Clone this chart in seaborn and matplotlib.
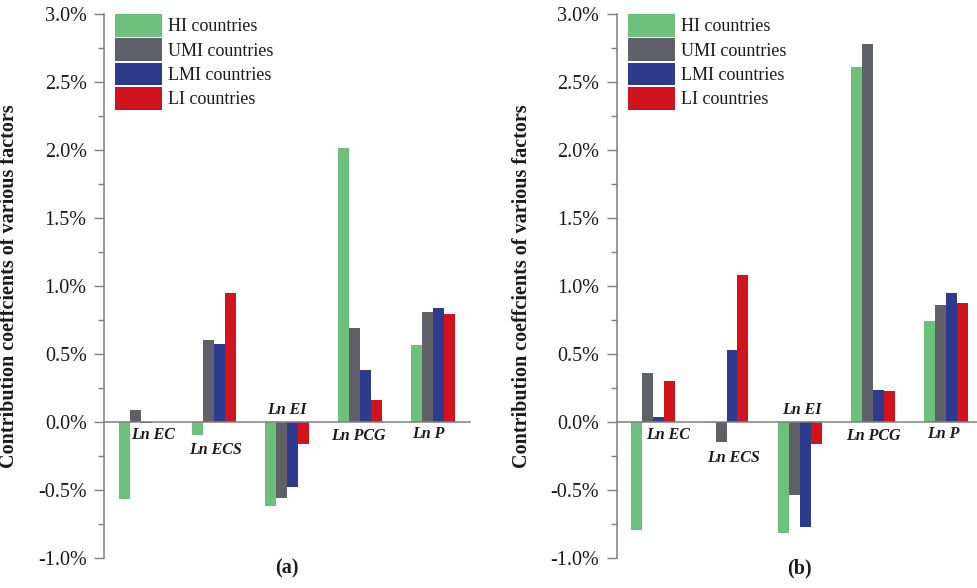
import numpy as np
import pandas as pd
import matplotlib
matplotlib.use("Agg")
import matplotlib.pyplot as plt
from matplotlib.patches import Patch
from matplotlib.ticker import MultipleLocator, FuncFormatter
import seaborn as sns

# Factors and income groups
factors = ["Ln EC", "Ln ECS", "Ln EI", "Ln PCG", "Ln P"]
groups = ["HI countries", "UMI countries", "LMI countries", "LI countries"]

# Contribution coefficients (%) -- panel (a)
hi_a = [-0.57, -0.10, -0.62, 2.01, 0.565]
umi_a = [0.085, 0.60, -0.563, 0.688, 0.805]
lmi_a = [-0.012, 0.57, -0.48, 0.383, 0.837]
li_a = [-0.004, 0.946, -0.163, 0.163, 0.793]

# Contribution coefficients (%) -- panel (b)
hi_b = [-0.793, -0.012, -0.817, 2.61, 0.739]
umi_b = [0.359, -0.146, -0.54, 2.78, 0.859]
lmi_b = [0.037, 0.529, -0.776, 0.232, 0.946]
li_b = [0.30, 1.076, -0.166, 0.228, 0.871]

panel_tags = ["(a)", "(b)"]

palette = ["#6cc07b", "#5f6068", "#2d3a8e", "#d0131d"]

sns.set_theme(style="white")
plt.rcParams["font.family"] = ["Liberation Serif", "DejaVu Serif"]


def long_table(series):
    rows = []
    for g, vals in zip(groups, series):
        for f, v in zip(factors, vals):
            rows.append({"factor": f, "group": g, "value": v})
    return pd.DataFrame(rows)


# Where each factor name sits (x offset from category, y in %)
label_pos_a = [(0.17, -0.10), (1.02, -0.21), (2.0, 0.085), (2.97, -0.105), (3.93, -0.09)]
label_pos_b = [(0.20, -0.10), (1.10, -0.27), (2.03, 0.085), (3.0, -0.105), (3.96, -0.09)]

W, H = 977, 588
fig = plt.figure(figsize=(W / 100, H / 100), dpi=100)

ax_w = 366 / W
ax_h = 544 / H
ax_b = 1 - 557.7 / H
axes = [fig.add_axes([104 / W, ax_b, ax_w, ax_h]),
        fig.add_axes([616.7 / W, ax_b, ax_w, ax_h])]

datasets = [long_table([hi_a, umi_a, lmi_a, li_a]),
            long_table([hi_b, umi_b, lmi_b, li_b])]
label_sets = [label_pos_a, label_pos_b]

spine_col = "#7f7f7f"
text_col = "#1a1a1a"

for ax, df, lpos, tag in zip(axes, datasets, label_sets, panel_tags):
    sns.barplot(data=df, x="factor", y="value", hue="group",
                order=factors, hue_order=groups, palette=palette,
                width=0.6, gap=0, saturation=1, errorbar=None,
                edgecolor="none", linewidth=0, ax=ax, legend=False)
    ax.set_xlim(-0.5, 4.5)
    ax.set_ylim(-1.0, 3.0)
    ax.yaxis.set_major_locator(MultipleLocator(0.5))
    ax.yaxis.set_minor_locator(MultipleLocator(0.25))
    ax.yaxis.set_major_formatter(FuncFormatter(lambda v, p: f"{v:.1f}%"))
    ax.tick_params(axis="y", which="major", direction="out", length=7.5,
                   width=1, color=spine_col, labelsize=14.5, pad=5,
                   labelcolor=text_col, left=True)
    ax.tick_params(axis="y", which="minor", direction="out", length=4,
                   width=1, color=spine_col, left=True)
    ax.set_xticks([])
    ax.set_xlabel("")
    for s in ["top", "right"]:
        ax.spines[s].set_visible(False)
    ax.spines["left"].set_color(spine_col)
    ax.spines["left"].set_linewidth(1.1)
    ax.spines["bottom"].set_position(("data", 0))
    ax.spines["bottom"].set_color(spine_col)
    ax.spines["bottom"].set_linewidth(1.1)
    ax.set_facecolor("white")

    ax.set_ylabel("Contribution coeffcients of various factors",
                  fontsize=14.5, fontweight="bold", color=text_col)
    ax.yaxis.set_label_coords(-0.232, 0.5)

    for name, (lx, ly) in zip(factors, lpos):
        ax.text(lx, ly, name, ha="center", va="center", fontsize=11.5,
                fontweight="bold", fontstyle="italic", color=text_col)

    ax.text(2.0, -1.08, tag, ha="center", va="center", fontsize=14.5,
            fontweight="bold", color=text_col, clip_on=False)

    handles = [Patch(facecolor=c, edgecolor="none", label=g)
               for c, g in zip(palette, groups)]
    ax.legend(handles=handles, loc="upper left",
              bbox_to_anchor=(11 / 366, 1.0), frameon=False,
              fontsize=13, handlelength=2.6, handleheight=1.58,
              labelspacing=0.08, handletextpad=0.35, borderpad=0,
              borderaxespad=0, labelcolor=text_col)

fig.savefig("out.png", dpi=100, facecolor="white")
